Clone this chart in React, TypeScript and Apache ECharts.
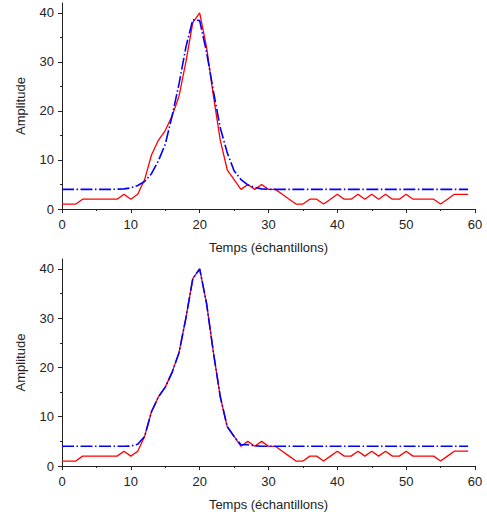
import React, { useEffect, useRef } from "react";
import * as echarts from "echarts";

// Measured signal (same in both panels), sample index 0..59
const measured = [
  1, 1, 1, 2, 2, 2, 2, 2, 2, 3,
  2, 3, 6, 11, 14, 16, 19, 23, 30, 38,
  40, 33, 23, 14, 8, 6, 4, 5, 4, 5,
  4, 4, 3, 2, 1, 1, 2, 2, 1, 2,
  3, 2, 2, 3, 2, 3, 2, 3, 2, 2,
  3, 2, 2, 2, 2, 1, 2, 3, 3, 3,
];

// Fitted model, top panel (gaussian-like fit)
const fitTop = [
  4, 4, 4, 4, 4, 4, 4, 4, 4.05, 4.1,
  4.3, 4.8, 5.6, 7.2, 9.8, 13.2, 19, 25.5, 33, 38.6,
  38.4, 32, 24, 16.5, 11.5, 7.8, 6, 4.9, 4.4, 4.1,
  4, 4, 4, 4, 4, 4, 4, 4, 4, 4,
  4, 4, 4, 4, 4, 4, 4, 4, 4, 4,
  4, 4, 4, 4, 4, 4, 4, 4, 4, 4,
];

// Fitted model, bottom panel
const fitBottom = [
  4, 4, 4, 4, 4, 4, 4, 4, 4, 4,
  4.05, 4.4, 6, 11, 14, 16, 19, 23, 30, 38,
  40, 33, 23, 14, 8, 6, 4.3, 4.3, 4.1, 4,
  4, 4, 4, 4, 4, 4, 4, 4, 4, 4,
  4, 4, 4, 4, 4, 4, 4, 4, 4, 4,
  4, 4, 4, 4, 4, 4, 4, 4, 4, 4,
];

const xTicks = [0, 10, 20, 30, 40, 50, 60];
const yMajorTicks = [0, 10, 20, 30, 40];
const yMinorTicks = [5, 15, 25, 35];
const xTitle = "Temps (échantillons)";
const yTitle = "Amplitude";

const FONT = "Liberation Sans, Arial, sans-serif";
const AXIS_COLOR = "#222";

export default function App() {
  const ref = useRef<HTMLDivElement>(null);

  useEffect(() => {
    if (!ref.current) return;
    const chart = echarts.init(ref.current, undefined, { renderer: "svg" });

    const toPts = (arr: number[]) => arr.map((v, i) => [i, v]);

    const xAxisFor = (gridIndex: number) => ({
      type: "value",
      gridIndex,
      min: 0,
      max: 60,
      interval: 10,
      name: xTitle,
      nameLocation: "middle",
      nameGap: 32,
      nameTextStyle: { fontFamily: FONT, fontSize: 13, color: AXIS_COLOR },
      axisLine: { show: true, lineStyle: { color: AXIS_COLOR, width: 1 } },
      axisTick: { show: true, length: 4, lineStyle: { color: AXIS_COLOR }, customValues: xTicks },
      minorTick: { show: true, splitNumber: 2, length: 2, lineStyle: { color: AXIS_COLOR } },
      axisLabel: { fontFamily: FONT, fontSize: 13, color: AXIS_COLOR, margin: 9, customValues: xTicks },
      splitLine: { show: false },
      minorSplitLine: { show: false },
    });

    const yAxisFor = (gridIndex: number) => ({
      type: "value",
      gridIndex,
      min: 0,
      max: 42,
      interval: 10,
      name: yTitle,
      nameLocation: "middle",
      nameGap: 35,
      nameRotate: 90,
      nameTextStyle: { fontFamily: FONT, fontSize: 13, color: AXIS_COLOR },
      axisLine: { show: true, lineStyle: { color: AXIS_COLOR, width: 1 } },
      axisTick: { show: true, length: 4, lineStyle: { color: AXIS_COLOR }, customValues: yMajorTicks },
      axisLabel: { fontFamily: FONT, fontSize: 13, color: AXIS_COLOR, margin: 8, customValues: yMajorTicks },
      splitLine: { show: false },
    });

    const yMinorAxisFor = (gridIndex: number) => ({
      type: "value",
      gridIndex,
      position: "left",
      min: 0,
      max: 42,
      interval: 5,
      axisLine: { show: false },
      axisTick: { show: true, length: 2, lineStyle: { color: AXIS_COLOR }, customValues: yMinorTicks },
      axisLabel: { show: false },
      splitLine: { show: false },
    });

    const redStyle = { color: "#ff0000", width: 1.3 };
    const blueStyle = { color: "#0000ff", width: 1.6, type: [12, 2.5, 1.5, 2.5] };

    chart.setOption({
      animation: false,
      backgroundColor: "#ffffff",
      grid: [
        { left: 62, top: 3, width: 413, height: 206 },
        { left: 62, top: 259, width: 413, height: 207 },
      ],
      xAxis: [xAxisFor(0), xAxisFor(1)],
      yAxis: [yAxisFor(0), yAxisFor(1), yMinorAxisFor(0), yMinorAxisFor(1)],
      series: [
        {
          type: "line", xAxisIndex: 0, yAxisIndex: 0, data: toPts(measured),
          showSymbol: false, lineStyle: redStyle, itemStyle: { color: "#ff0000" },
        },
        {
          type: "line", xAxisIndex: 0, yAxisIndex: 0, data: toPts(fitTop),
          showSymbol: false, lineStyle: blueStyle, itemStyle: { color: "#0000ff" },
        },
        {
          type: "line", xAxisIndex: 1, yAxisIndex: 1, data: toPts(measured),
          showSymbol: false, lineStyle: redStyle, itemStyle: { color: "#ff0000" },
        },
        {
          type: "line", xAxisIndex: 1, yAxisIndex: 1, data: toPts(fitBottom),
          showSymbol: false, lineStyle: blueStyle, itemStyle: { color: "#0000ff" },
        },
      ],
    });

    return () => chart.dispose();
  }, []);

  return (
    <div
      ref={ref}
      style={{ position: "fixed", left: 0, top: 0, width: 487, height: 512, background: "#fff" }}
    />
  );
}
